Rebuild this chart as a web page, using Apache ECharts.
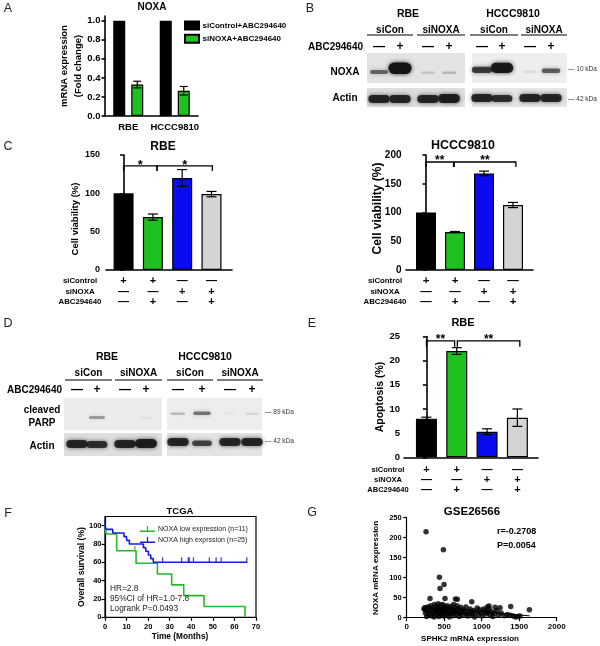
<!DOCTYPE html>
<html><head><meta charset="utf-8">
<script src="https://cdn.jsdelivr.net/npm/echarts@6/dist/echarts.min.js"></script>
<style>html,body{margin:0;padding:0;background:#fff}#c{width:600px;height:646px}</style>
</head><body><div id="c"></div>
<script>
const FONT = '"Liberation Sans", Arial, Helvetica, sans-serif';

// ---------- Panel A ----------
const aCategories = ['RBE', 'HCCC9810'];
const aSeriesNames = ['siControl+ABC294640', 'siNOXA+ABC294640'];
const aControl = [1.0, 1.0];
const aNoxa = [0.33, 0.265];
const aNoxaErr = [0.035, 0.045];
const aTicks = [0, 0.2, 0.4, 0.6, 0.8, 1.0];

// ---------- Panels C / E ----------
const treatRows = ['siControl', 'siNOXA', 'ABC294640'];
const treatSigns = [['+', '+', '—', '—'], ['—', '—', '+', '+'], ['—', '+', '—', '+']];
const barColors = ['#000000', '#1ec21e', '#0b0bef', '#d4d4d4'];
const groupPos = [0, 1, 2, 3];
const cRbe = [100, 69, 120, 99];
const cRbeErr = [0, 4, 11, 3.5];
const cRbeBrackets = [[0, 1.14, 135.7, 129], [1.14, 3.03, 135.7, 129]];
const cRbeStars = ['*', '*'];
const cHccc = [100, 66, 168, 113];
const cHcccErr = [0, 1, 4, 4.5];
const cHcccBrackets = [[0, 0.95, 187.8, 179], [0.97, 3.1, 187.8, 179]];
const cHcccStars = ['**', '**'];
const eRbe = [8, 22, 5.3, 8.2];
const eRbeErr = [0.3, 0.7, 0.6, 1.8];
const eRbeBrackets = [[0, 0.93, 24.1, 22.9], [1.02, 3.08, 24.1, 22.9]];
const eRbeStars = ['**', '**'];

// ---------- Western blots (band intensity per lane) ----------
const blotLanes = ['—', '+', '—', '+'];
const bNoxaRbe = [0.55, 1.0, 0.14, 0.2];
const bNoxaHccc = [0.75, 0.95, 0.08, 0.6];
const bActinRbe = [0.85, 0.85, 0.85, 0.9];
const bActinHccc = [0.85, 0.8, 0.85, 0.85];
const dParpRbe = [0.0, 0.35, 0.0, 0.05];
const dParpHccc = [0.22, 0.5, 0.03, 0.1];
const dActinRbe = [0.85, 0.8, 0.85, 0.9];
const dActinHccc = [0.85, 0.7, 0.85, 0.85];

// ---------- Panel F (Kaplan-Meier) ----------
const kmLowName = 'NOXA low expression (n=11)';
const kmHighName = 'NOXA high exprssion (n=25)';
const kmLowT = [0, 0.5, 5.4, 14.4, 24.3, 30.9, 36.5, 45.9, 64.9];
const kmLowS = [100, 90.9, 72.7, 59, 47.2, 35.4, 23.6, 11.8, 0];
const kmLowCensT = [13.9];
const kmLowCensS = [72.7];
const kmHighT = [0, 0.5, 3.6, 8.8, 10, 11.3, 17.8, 18.9, 20.1, 21.2, 22.4, 66];
const kmHighS = [100, 96, 92, 88, 84, 80, 76, 72, 68, 64, 60, 60];
const kmHighCensT = [0, 26.7, 35.5, 38.6, 39.1, 41, 48.4, 51.5, 53.8, 65.7];
const kmHighCensS = [100, 60, 60, 60, 60, 60, 60, 60, 60, 60];
const fTicksY = [0, 20, 40, 60, 80, 100];

// ---------- Panel G (scatter) ----------
const gSphk2 = [258, 489, 436, 498, 444, 311, 511, 650, 675, 867, 1387, 1636, 1244, 1178, 1098, 1075,
  230, 240, 250, 260, 265, 280, 290, 300, 310, 320, 330, 340, 350, 355, 365, 370, 380, 390, 400, 405,
  410, 420, 425, 430, 440, 445, 450, 455, 460, 470, 475, 480, 490, 495, 500, 505, 515, 520, 530, 540,
  545, 555, 560, 570, 580, 590, 600, 605, 615, 625, 630, 640, 650, 660, 670, 680, 690, 700, 710, 720,
  735, 745, 760, 775, 790, 800, 815, 830, 845, 860, 875, 890, 905, 920, 940, 955, 970, 990, 1010, 1025,
  1040, 1060, 1080, 1100, 1115, 1130, 1150, 1170, 1200, 1225, 1260, 1300, 1340, 1380, 1420, 1450, 1480, 1510];
const gNoxa = [215, 170, 101, 83, 73, 48, 48, 47, 46, 40, 28, 20, 25, 26, 29, 27,
  22, 25, 12, 18, 3, 27, 8, 15, 21, 30, 5, 18, 24, 10, 2, 33, 14, 20, 28, 7,
  16, 35, 22, 3, 12, 26, 31, 18, 8, 20, 14, 33, 24, 4, 11, 28, 17, 22, 7, 30,
  13, 25, 19, 2, 10, 28, 21, 15, 5, 33, 12, 24, 18, 8, 30, 14, 22, 3, 11, 26,
  17, 6, 20, 13, 27, 9, 4, 16, 22, 11, 7, 18, 2, 14, 24, 8, 20, 12, 5, 22,
  17, 9, 13, 21, 6, 15, 3, 11, 18, 7, 12, 5, 8, 6, 4, 2, 3, 4];
const gFitX = [230, 1640];
const gFitY = [29, 4.5];

// ================= helpers =================
function T(x, y, text, size, opt) {
  opt = opt || {};
  const al = opt.align || 'center', va = opt.va || 'middle';
  return {type: 'text', x: x, y: y, rotation: opt.rot || 0, z: 20,
    style: {text: text, font: (opt.bold === false ? '' : 'bold ') + size + 'px ' + FONT,
      fill: opt.color || '#000', align: al, verticalAlign: va, textAlign: al, textVerticalAlign: va}};
}
function L(x1, y1, x2, y2, w) {
  return {type: 'line', z: 20, shape: {x1: x1, y1: y1, x2: x2, y2: y2}, style: {stroke: '#000', lineWidth: w || 1}};
}
function blot(x, y, w, h, bg, lanes, intens, base) {
  const els = [{type: 'rect', z: 5, shape: {x: x, y: y, width: w, height: h}, style: {fill: bg}}];
  intens.forEach(function (v, i) {
    if (v <= 0) return;
    const bw = 12 + 11 * v, bh = 2.5 + 9 * v * v * v;
    els.push({type: 'rect', z: 6,
      shape: {x: lanes[i] - bw / 2, y: base - bh, width: bw, height: bh, r: bh / 2},
      style: {fill: 'rgba(20,20,20,' + Math.min(1, v) + ')', shadowBlur: 4, shadowColor: 'rgba(20,20,20,' + (v * 0.9) + ')'}});
  });
  return els;
}
function errSeries(gi, vals, errs, xs, capW, offset) {
  const data = [];
  vals.forEach(function (v, i) { if (errs[i] > 0) data.push([xs[i], v - errs[i], v + errs[i]]); });
  return {type: 'custom', xAxisIndex: gi, yAxisIndex: gi, z: 5, data: data, silent: true,
    renderItem: function (params, api) {
      const p1 = api.coord([api.value(0), api.value(1)]);
      const p2 = api.coord([api.value(0), api.value(2)]);
      const cx = p1[0] + (offset || 0);
      const st = {stroke: '#000', lineWidth: 1.2};
      return {type: 'group', children: [
        {type: 'line', shape: {x1: cx, y1: p1[1], x2: cx, y2: p2[1]}, style: st},
        {type: 'line', shape: {x1: cx - capW / 2, y1: p1[1], x2: cx + capW / 2, y2: p1[1]}, style: st},
        {type: 'line', shape: {x1: cx - capW / 2, y1: p2[1], x2: cx + capW / 2, y2: p2[1]}, style: st}
      ]};
    }};
}
function bracketSeries(gi, data, stars, fs) {
  return {type: 'custom', xAxisIndex: gi, yAxisIndex: gi, z: 6, data: data, clip: false, silent: true,
    renderItem: function (params, api) {
      const a = api.coord([api.value(0), api.value(3)]), b = api.coord([api.value(0), api.value(2)]);
      const c = api.coord([api.value(1), api.value(2)]), d = api.coord([api.value(1), api.value(3)]);
      return {type: 'group', children: [
        {type: 'polyline', shape: {points: [a, b, c, d]}, style: {stroke: '#000', lineWidth: 1.3, fill: null}},
        {type: 'text', x: (b[0] + c[0]) / 2, y: b[1] - 1,
          style: {text: stars[params.dataIndex], font: 'bold ' + fs + 'px ' + FONT, fill: '#000',
            align: 'center', verticalAlign: 'middle', textAlign: 'center', textVerticalAlign: 'middle'}}
      ]};
    }};
}
function barSeries(gi, vals, bw) {
  return {type: 'bar', xAxisIndex: gi, yAxisIndex: gi, barWidth: bw, z: 3, silent: true,
    itemStyle: {borderColor: '#000', borderWidth: 1.2},
    data: vals.map(function (v, i) { return {value: [groupPos[i], v], itemStyle: {color: barColors[i]}}; })};
}
function signAxis(gi, min, max, fs, lh, margin) {
  return {type: 'value', gridIndex: gi, min: min, max: max,
    axisLine: {show: true, lineStyle: {color: '#000', width: 1.6}},
    axisTick: {show: false}, splitLine: {show: false},
    axisLabel: {customValues: groupPos, color: '#000', fontWeight: 'bold', fontSize: fs, lineHeight: lh, margin: margin,
      formatter: function (v) { const i = Math.round(v); return treatSigns.map(function (r) { return r[i]; }).join('\n'); }}};
}
function valAxis(gi, min, max, interval, fs, margin, lw, extra, fmt) {
  const ax = {type: 'value', gridIndex: gi, min: min, max: max,
    axisLine: {show: true, lineStyle: {color: '#000', width: lw}},
    axisTick: {show: true, length: 3.5, lineStyle: {color: '#000', width: lw}},
    splitLine: {show: false},
    axisLabel: {color: '#000', fontWeight: 'bold', fontSize: fs, margin: margin,
      formatter: fmt || function (v) { return String(v); }}};
  if (interval) ax.interval = interval;
  if (extra) { ax.axisLabel.customValues = extra; ax.axisTick.customValues = extra; }
  return ax;
}

// ================= graphics (text, blots) =================
const g = [];
[['A', 8, 9], ['B', 310, 9], ['C', 8, 147], ['D', 8, 324], ['E', 312, 324], ['F', 8, 514], ['G', 312, 513]]
  .forEach(function (l) { g.push(T(l[1], l[2], l[0], 12.5, {bold: false, color: '#222'})); });
// A
g.push(T(152, 7, 'NOXA', 10));
g.push(T(64, 66, 'mRNA expression', 9.5, {rot: Math.PI / 2}));
g.push(T(78.5, 66, '(Fold change)', 9.5, {rot: Math.PI / 2}));

function blotHeader(cfg) {
  g.push(T(cfg.title1, cfg.titleY, 'RBE', 10.5));
  g.push(T(cfg.title2, cfg.titleY, 'HCCC9810', 10.5));
  cfg.segs.forEach(function (s, i) {
    g.push(T((s[0] + s[1]) / 2, cfg.siY, i % 2 === 0 ? 'siCon' : 'siNOXA', 10));
    g.push(L(s[0], cfg.lineY, s[1], cfg.lineY, 1.2));
  });
  g.push(T(cfg.abcX, cfg.abcY, 'ABC294640', 10, {align: 'right'}));
  cfg.lanes.forEach(function (x, i) { g.push(T(x, cfg.abcY, blotLanes[i % 4], 12)); });
}
// B
const laneB1 = [379, 400, 428, 449], laneB2 = [482, 502, 530, 551];
blotHeader({title1: 408, title2: 513, titleY: 14, segs: [[367, 413], [417, 465], [470, 518], [521, 567]],
  siY: 30, lineY: 35, abcX: 363, abcY: 47, lanes: laneB1.concat(laneB2)});
Array.prototype.push.apply(g, blot(367, 53, 98, 30, '#e3e3e3', laneB1, bNoxaRbe, 74));
Array.prototype.push.apply(g, blot(472, 53, 95, 30, '#eeeeee', laneB2, bNoxaHccc, 73));
Array.prototype.push.apply(g, blot(367, 88, 98, 19, '#dedede', laneB1, bActinRbe, 103));
Array.prototype.push.apply(g, blot(472, 88, 95, 19, '#e6e6e6', laneB2, bActinHccc, 102));
g.push(T(345, 72, 'NOXA', 10));
g.push(T(345, 98, 'Actin', 10));
g.push(T(568, 69, '— 10 kDa', 6.5, {bold: false, align: 'left', color: '#333'}));
g.push(T(568, 99, '— 42 kDa', 6.5, {bold: false, align: 'left', color: '#333'}));
// D
const laneD1 = [77, 97, 125, 146], laneD2 = [178, 202, 230, 252];
blotHeader({title1: 107, title2: 205, titleY: 357, segs: [[65, 112], [115, 162], [167, 213], [217, 263]],
  siY: 373, lineY: 380, abcX: 62, abcY: 390, lanes: laneD1.concat(laneD2)});
Array.prototype.push.apply(g, blot(64, 398, 98, 32, '#ececec', laneD1, dParpRbe, 419));
Array.prototype.push.apply(g, blot(167, 398, 95, 32, '#ededed', laneD2, dParpHccc, 415));
Array.prototype.push.apply(g, blot(64, 433, 98, 23, '#dedede', laneD1, dActinRbe, 448));
Array.prototype.push.apply(g, blot(167, 433, 95, 23, '#e4e4e4', laneD2, dActinHccc, 446));
g.push(T(42, 410, 'cleaved', 10));
g.push(T(42, 423, 'PARP', 10));
g.push(T(42, 446, 'Actin', 10));
g.push(T(265, 412, '— 89 kDa', 6.5, {bold: false, align: 'left', color: '#333'}));
g.push(T(265, 441, '— 42 kDa', 6.5, {bold: false, align: 'left', color: '#333'}));
// C
g.push(T(163, 147, 'RBE', 12));
g.push(T(463, 146, 'HCCC9810', 12.5));
g.push(T(75, 219, 'Cell viability (%)', 9.5, {rot: Math.PI / 2}));
g.push(T(377.5, 208.5, 'Cell viability (%)', 12, {rot: Math.PI / 2}));
treatRows.forEach(function (r, i) {
  g.push(T(80, 281 + i * 10.5, r, 7.8));
  g.push(T(385, 281 + i * 10.5, r, 7.8));
  g.push(T(388, 470 + i * 10, r, 7.5));
});
// E
g.push(T(463, 323, 'RBE', 11));
g.push(T(380, 397, 'Apoptosis (%)', 10.5, {rot: Math.PI / 2}));
// F
g.push(T(180, 511, 'TCGA', 9.5));
g.push(T(82, 567, 'Overall survival (%)', 8.6, {rot: Math.PI / 2}));
g.push(T(180, 637, 'Time (Months)', 8.3));
g.push(T(110, 589, 'HR=2.8', 8.3, {bold: false, align: 'left', color: '#222'}));
g.push(T(110, 599, '95%CI of HR=1.0-7.8', 8.3, {bold: false, align: 'left', color: '#222'}));
g.push(T(110, 608.5, 'Logrank P=0.0493', 8.3, {bold: false, align: 'left', color: '#222'}));
// G
g.push(T(472, 512, 'GSE26566', 11.5));
g.push(T(376, 568, 'NOXA mRNA expression', 8, {rot: Math.PI / 2}));
g.push(T(470, 639, 'SPHK2 mRNA expression', 8));
g.push(T(497, 532, 'r=-0.2708', 9, {align: 'left'}));
g.push(T(497, 546, 'P=0.0054', 9, {align: 'left'}));

// ================= option =================
const kmIcon = 'path://M0,8L20,8L20,10L0,10Z M9.2,2L10.8,2L10.8,8L9.2,8Z';
const option = {
  animation: false,
  textStyle: {fontFamily: FONT},
  graphic: {elements: g},
  legend: [
    {data: aSeriesNames, left: 184, top: 20.5, padding: 0, orient: 'vertical', itemWidth: 14, itemHeight: 8, itemGap: 3.3,
      selectedMode: false, icon: 'rect',
      textStyle: {fontWeight: 'bold', fontSize: 8, lineHeight: 10, color: '#000', fontFamily: FONT, padding: [0, 0, 0, -1.5]}},
    {data: [kmLowName, kmHighName], left: 140, top: 525, padding: 0, orient: 'vertical', itemWidth: 17, itemHeight: 6, itemGap: 3,
      selectedMode: false, icon: kmIcon,
      textStyle: {fontSize: 7, lineHeight: 8, color: '#222', fontFamily: FONT, padding: [0, 0, 0, -3]}}
  ],
  grid: [
    {left: 105, top: 16, width: 93, height: 100},
    {left: 106, top: 155, width: 126, height: 115},
    {left: 406, top: 155, width: 127, height: 115},
    {left: 404, top: 336.5, width: 134, height: 120.8},
    {left: 105, top: 516.5, width: 151, height: 100.8, show: true, borderColor: '#000', borderWidth: 1.2, backgroundColor: 'transparent'},
    {left: 406.7, top: 517.7, width: 150, height: 100}
  ],
  xAxis: [
    {type: 'category', gridIndex: 0, data: aCategories,
      axisLine: {show: true, lineStyle: {color: '#000', width: 1.6}}, axisTick: {show: false},
      axisLabel: {color: '#000', fontWeight: 'bold', fontSize: 9.5, margin: 6, interval: 0}},
    signAxis(1, -0.6, 3.7, 11, 10.5, 5.75),
    signAxis(2, -0.69, 3.69, 11.5, 10.5, 5.75),
    signAxis(3, -0.74, 3.68, 11, 10, 7.7),
    valAxis(4, 0, 70, 10, 7.5, 5.5, 1.2),
    valAxis(5, 0, 2000, 500, 8, 5, 1.2)
  ],
  yAxis: [
    valAxis(0, 0, 1.05, null, 9.5, 4.5, 1.6, aTicks, function (v) { return v.toFixed(1); }),
    valAxis(1, 0, 150, 50, 9, 6, 1.6),
    valAxis(2, 0, 200, 50, 10, 4.5, 1.6),
    valAxis(3, 0, 25, 5, 9.5, 4, 1.6),
    valAxis(4, 0, 110, null, 7.5, 3.5, 1.2, fTicksY),
    valAxis(5, 0, 250, 50, 7.5, 5, 1.2)
  ],
  series: [
    {name: aSeriesNames[0], type: 'bar', xAxisIndex: 0, yAxisIndex: 0, data: aControl, barWidth: 12, barGap: '50%',
      itemStyle: {color: '#000', borderColor: '#000', borderWidth: 1.2}, silent: true},
    {name: aSeriesNames[1], type: 'bar', xAxisIndex: 0, yAxisIndex: 0, data: aNoxa, barWidth: 12, barGap: '50%',
      itemStyle: {color: '#1ec21e', borderColor: '#000', borderWidth: 1.2}, silent: true},
    errSeries(0, aNoxa, aNoxaErr, [0, 1], 8, 9),
    barSeries(1, cRbe, 20), errSeries(1, cRbe, cRbeErr, groupPos, 10, 0), bracketSeries(1, cRbeBrackets, cRbeStars, 13),
    barSeries(2, cHccc, 20), errSeries(2, cHccc, cHcccErr, groupPos, 10, 0), bracketSeries(2, cHcccBrackets, cHcccStars, 12),
    barSeries(3, eRbe, 21), errSeries(3, eRbe, eRbeErr, groupPos, 10, 0), bracketSeries(3, eRbeBrackets, eRbeStars, 12),
    {name: kmLowName, type: 'line', xAxisIndex: 4, yAxisIndex: 4, step: 'end', symbol: 'none', color: '#22bb22',
      lineStyle: {width: 1.6}, data: kmLowT.map(function (t, i) { return [t, kmLowS[i]]; }), silent: true},
    {name: kmHighName, type: 'line', xAxisIndex: 4, yAxisIndex: 4, step: 'end', symbol: 'none', color: '#1a1ae6',
      lineStyle: {width: 1.6}, data: kmHighT.map(function (t, i) { return [t, kmHighS[i]]; }), silent: true},
    {name: 'lowCens', type: 'scatter', xAxisIndex: 4, yAxisIndex: 4, symbol: 'rect', symbolSize: [1.3, 5], symbolOffset: [0, -2.5],
      itemStyle: {color: '#22bb22'}, data: kmLowCensT.map(function (t, i) { return [t, kmLowCensS[i]]; }), silent: true},
    {name: 'highCens', type: 'scatter', xAxisIndex: 4, yAxisIndex: 4, symbol: 'rect', symbolSize: [1.3, 5], symbolOffset: [0, -2.5],
      itemStyle: {color: '#1a1ae6'}, data: kmHighCensT.map(function (t, i) { return [t, kmHighCensS[i]]; }), silent: true},
    {name: 'GSE26566', type: 'scatter', xAxisIndex: 5, yAxisIndex: 5, symbol: 'circle', symbolSize: 5.5,
      itemStyle: {color: '#000'}, data: gSphk2.map(function (x, i) { return [x, gNoxa[i]]; }), silent: true},
    {name: 'fit', type: 'line', xAxisIndex: 5, yAxisIndex: 5, symbol: 'none', color: '#000', lineStyle: {width: 1},
      data: gFitX.map(function (x, i) { return [x, gFitY[i]]; }), silent: true}
  ]
};
const chart = echarts.init(document.getElementById('c'), null, {renderer: 'canvas', width: 600, height: 646});
chart.setOption(option);
</script>
</body></html>
